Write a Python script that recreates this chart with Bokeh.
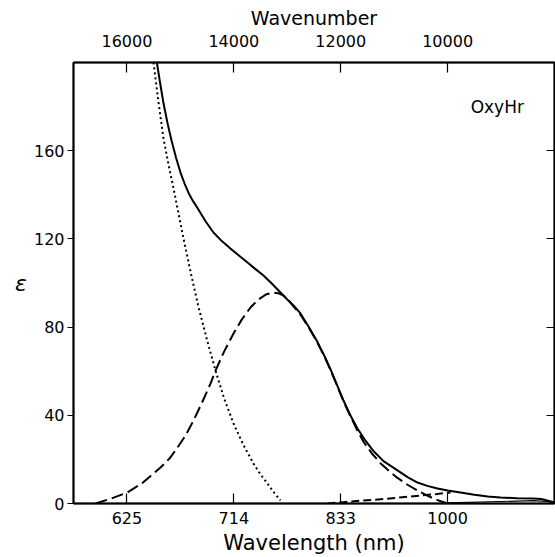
from bokeh.plotting import figure
from bokeh.models import Range1d, LinearAxis, FixedTicker, Label
from bokeh.embed import file_html
from bokeh.resources import INLINE

# ---- data (wavenumber cm^-1, epsilon) ----
total_wn = [15440, 15380, 15316, 15240, 15166, 15080, 14998, 14920, 14840, 14760,
            14680, 14530, 14381, 14220, 14063, 13900, 13744, 13600, 13445, 13290,
            13127, 13000, 12884, 12753, 12600, 12435, 12300, 12192, 12070, 11948,
            11820, 11686, 11540, 11387, 11200, 10938, 10750, 10564, 10380, 10190,
            10000, 9759, 9500, 9250, 9011, 8700, 8393, 8250, 8100, 8000]
total_eps = [200, 190.8, 181.5, 172.4, 164.6, 156.7, 150.1, 145.0, 140.5, 137.0,
             134.0, 128.0, 122.9, 118.9, 115.6, 112.4, 109.3, 106.4, 103.4, 99.8,
             95.7, 92.5, 89.8, 86.2, 80.2, 73.2, 66.7, 60.9, 53.8, 46.7,
             40.0, 34.0, 28.6, 23.8, 19.2, 15.0, 12.0, 9.5, 8.0, 6.8,
             5.9, 5.0, 4.0, 3.2, 2.7, 2.4, 2.3, 2.0, 1.2, 0.5]

band_wn = [16588, 16300, 15990, 15700, 15372, 15200, 15054, 14900, 14755, 14600,
           14437, 14343, 14180, 14006, 13850, 13688, 13550, 13400, 13258, 13150,
           13071, 12970, 12884, 12753, 12600, 12435, 12300, 12192, 12070, 11948,
           11820, 11686, 11574, 11420, 11256, 11100, 10938, 10750, 10564, 10400,
           10265, 10130, 10000]
band_eps = [0, 2.2, 5.0, 9.5, 16.3, 20.5, 25.4, 31.0, 37.6, 45.5,
            54.4, 60.3, 69.0, 77.1, 83.5, 88.9, 92.3, 94.8, 95.7, 95.2,
            94.3, 92.0, 89.4, 85.6, 79.9, 72.9, 66.4, 60.6, 53.5, 46.4,
            39.6, 33.0, 28.0, 22.8, 18.3, 14.8, 11.6, 8.5, 5.9, 3.8,
            2.3, 1.0, 0]

tail_wn = [15503, 15410, 15316, 15220, 15129, 15035, 14942, 14800, 14670, 14500,
           14343, 14180, 14006, 13820, 13632, 13500, 13370, 13250, 13127]
tail_eps = [200, 182, 165.5, 153.5, 142.9, 131.5, 120.2, 104, 90.0, 74.0,
            60.3, 47.5, 36.3, 26.5, 18.1, 13.2, 9.0, 5.0, 1.4]

weak_wn = [12250, 12100, 11948, 11600, 11200, 10850, 10508, 10200, 9946]
weak_eps = [0, 0.3, 0.6, 1.3, 2.0, 2.8, 3.6, 4.3, 5.0]

base_wn = [10000, 9011, 8393, 8150, 8000]
base_eps = [0.3, 0.9, 1.3, 1.0, 0]

wn_ticks = [16000, 14000, 12000, 10000]
wl_labels = ["625", "714", "833", "1000"]
wn_labels = ["16000", "14000", "12000", "10000"]
eps_ticks = [0, 40, 80, 120, 160]

FONT = "DejaVu Sans"

p = figure(width=555, height=557, output_backend="svg", toolbar_location=None,
           x_range=Range1d(17000, 8000), y_range=Range1d(0, 200),
           x_axis_location=None, y_axis_location=None,
           min_border_left=73, min_border_right=1, min_border_top=62,
           min_border_bottom=54)
for g in p.grid:
    g.visible = False
p.outline_line_color = "black"
p.outline_line_width = 1.5
p.background_fill_color = "white"
p.border_fill_color = "white"


def style(ax, tick_in, tick_out, standoff):
    ax.major_tick_in = tick_in
    ax.major_tick_out = tick_out
    ax.minor_tick_line_color = None
    ax.axis_line_width = 2
    ax.major_tick_line_width = 1.2
    ax.major_label_standoff = standoff
    ax.major_label_text_font = FONT
    ax.major_label_text_font_size = "16px"
    ax.major_label_text_color = "black"
    ax.axis_label_text_font = FONT
    ax.axis_label_text_font_size = "19px"
    ax.axis_label_text_font_style = "normal"
    ax.axis_label_text_color = "black"


bottom = LinearAxis(ticker=FixedTicker(ticks=wn_ticks),
                    major_label_overrides=dict(zip(wn_ticks, wl_labels)),
                    axis_label="Wavelength (nm)")
style(bottom, 10, 0, 8)
bottom.axis_label_text_font_size = "21px"
bottom.axis_label_standoff = 4
p.add_layout(bottom, "below")

top = LinearAxis(ticker=FixedTicker(ticks=wn_ticks),
                 major_label_overrides=dict(zip(wn_ticks, wn_labels)),
                 axis_label="Wavenumber")
style(top, 10, 0, 16)
top.axis_label_standoff = 3
p.add_layout(top, "above")

left = LinearAxis(ticker=FixedTicker(ticks=eps_ticks), axis_label="ε")
style(left, 0, 6, 3)
left.axis_label_text_font_size = "22px"
left.axis_label_text_font_style = "italic"
left.axis_label_orientation = "horizontal"
left.axis_label_standoff = 4
p.add_layout(left, "left")

right = LinearAxis(ticker=FixedTicker(ticks=eps_ticks[1:]),
                   major_label_overrides={t: "" for t in eps_ticks[1:]})
style(right, 8, 0, 0)
p.add_layout(right, "right")

p.line(total_wn, total_eps, line_color="black", line_width=2)
p.line(band_wn, band_eps, line_color="black", line_width=2, line_dash="12 5")
p.line(tail_wn, tail_eps, line_color="black", line_width=2, line_dash="2 3")
p.line(weak_wn, weak_eps, line_color="black", line_width=2, line_dash="8 4")
p.line(base_wn, base_eps, line_color="black", line_width=1.2)

p.add_layout(Label(x=9070, y=180, text="OxyHr", text_font=FONT,
                   text_font_size="17px", text_align="center",
                   text_baseline="middle", text_color="black"))

open("out.html", "w").write(file_html(p, INLINE))
